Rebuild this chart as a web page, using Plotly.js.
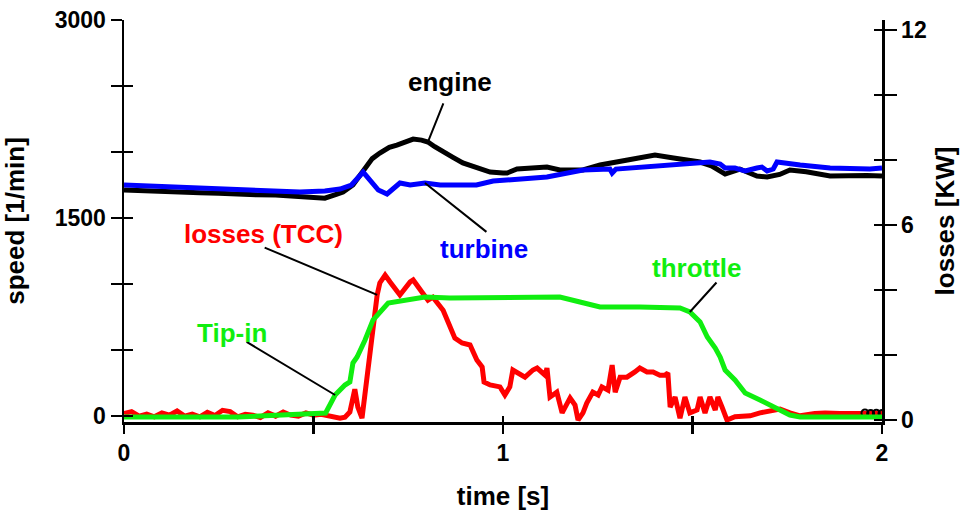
<!DOCTYPE html>
<html>
<head>
<meta charset="utf-8">
<script src="https://cdn.plot.ly/plotly-3.0.1.min.js"></script>
<style>
  html, body { margin: 0; padding: 0; background: #ffffff; }
  #chart { width: 962px; height: 517px; }
</style>
</head>
<body>
<div id="chart"></div>
<script>
// Engine speed [1/min] over time [s]
const engineTime = [0, 0.05, 0.1, 0.15, 0.2, 0.25, 0.3, 0.35, 0.4, 0.45, 0.5, 0.53, 0.56, 0.578, 0.604, 0.631, 0.655, 0.675, 0.70, 0.72, 0.745, 0.763, 0.785, 0.802, 0.82, 0.842, 0.868, 0.894, 0.93, 0.966, 1.0, 1.011, 1.037, 1.07, 1.116, 1.15, 1.18, 1.211, 1.256, 1.30, 1.335, 1.37, 1.401, 1.45, 1.52, 1.55, 1.586, 1.625, 1.65, 1.670, 1.697, 1.73, 1.757, 1.80, 1.863, 1.923, 1.96, 2.0];
const engineSpeed = [1712, 1705, 1700, 1698, 1692, 1688, 1680, 1676, 1674, 1668, 1662, 1650, 1680, 1697, 1750, 1848, 1950, 1992, 2035, 2053, 2075, 2098, 2090, 2076, 2040, 2000, 1960, 1917, 1880, 1848, 1841, 1841, 1871, 1880, 1886, 1864, 1862, 1864, 1902, 1925, 1939, 1960, 1977, 1955, 1924, 1895, 1833, 1871, 1840, 1818, 1811, 1830, 1864, 1850, 1818, 1826, 1822, 1818];

// Turbine speed [1/min]
const turbineTime = [0, 0.1, 0.2, 0.3, 0.4, 0.464, 0.53, 0.57, 0.60, 0.631, 0.671, 0.694, 0.728, 0.755, 0.794, 0.834, 0.93, 0.974, 1.116, 1.211, 1.282, 1.288, 1.298, 1.335, 1.388, 1.52, 1.546, 1.573, 1.586, 1.612, 1.639, 1.670, 1.683, 1.697, 1.713, 1.723, 1.757, 1.784, 1.863, 1.968, 2.0];
const turbineSpeed = [1750, 1740, 1730, 1718, 1708, 1697, 1705, 1720, 1750, 1848, 1712, 1682, 1765, 1750, 1765, 1750, 1750, 1780, 1811, 1864, 1871, 1841, 1871, 1879, 1886, 1917, 1924, 1909, 1879, 1879, 1856, 1879, 1886, 1856, 1871, 1924, 1917, 1902, 1879, 1871, 1879];

// Torque converter clutch losses [KW]
const lossTime = [0, 0.02, 0.04, 0.06, 0.08, 0.10, 0.12, 0.14, 0.16, 0.18, 0.20, 0.22, 0.24, 0.26, 0.28, 0.30, 0.32, 0.34, 0.36, 0.38, 0.40, 0.42, 0.44, 0.46, 0.48, 0.50, 0.52, 0.54, 0.570, 0.583, 0.596, 0.609, 0.617, 0.628, 0.636, 0.654, 0.668, 0.675, 0.689, 0.702, 0.728, 0.755, 0.763, 0.786, 0.802, 0.815, 0.834, 0.842, 0.873, 0.892, 0.913, 0.931, 0.945, 0.950, 0.966, 0.992, 1.005, 1.018, 1.026, 1.040, 1.058, 1.079, 1.090, 1.111, 1.116, 1.124, 1.142, 1.156, 1.177, 1.190, 1.198, 1.211, 1.221, 1.237, 1.251, 1.261, 1.277, 1.288, 1.296, 1.309, 1.327, 1.348, 1.361, 1.380, 1.396, 1.414, 1.427, 1.435, 1.441, 1.454, 1.467, 1.480, 1.493, 1.512, 1.520, 1.533, 1.546, 1.560, 1.567, 1.578, 1.591, 1.612, 1.652, 1.678, 1.705, 1.731, 1.757, 1.784, 1.823, 1.850, 1.889, 1.929, 1.955, 1.970, 1.985, 2.0];
const lossKW = [0.20, 0.26, 0.12, 0.18, 0.10, 0.22, 0.15, 0.28, 0.12, 0.18, 0.10, 0.24, 0.14, 0.30, 0.26, 0.10, 0.18, 0.15, 0.08, 0.22, 0.12, 0.25, 0.15, 0.12, 0.22, 0.15, 0.18, 0.14, 0.06, 0.09, 0.25, 0.95, 0.40, 0.06, 0.83, 2.68, 3.85, 4.22, 4.46, 4.25, 3.85, 4.25, 4.31, 3.94, 3.69, 3.78, 3.48, 3.38, 2.52, 2.37, 2.31, 1.85, 1.63, 1.17, 1.08, 1.02, 0.77, 1.02, 1.54, 1.45, 1.32, 1.54, 1.60, 1.38, 1.60, 0.71, 0.86, 0.22, 0.68, 0.46, 0.0, 0.22, 0.52, 0.86, 0.77, 1.02, 0.92, 1.69, 0.86, 1.32, 1.32, 1.48, 1.60, 1.48, 1.48, 1.38, 1.38, 1.45, 0.40, 0.71, 0.06, 0.71, 0.22, 0.31, 0.71, 0.22, 0.71, 0.31, 0.71, 0.40, 0.0, 0.10, 0.13, 0.22, 0.28, 0.34, 0.22, 0.13, 0.20, 0.22, 0.20, 0.20, 0.22, 0.20, 0.21, 0.20];

// Throttle pedal position [%]
const throttleTime = [0, 0.3, 0.532, 0.544, 0.557, 0.583, 0.596, 0.604, 0.615, 0.636, 0.657, 0.697, 0.755, 0.794, 0.860, 0.992, 1.150, 1.203, 1.256, 1.361, 1.467, 1.493, 1.520, 1.539, 1.560, 1.573, 1.586, 1.612, 1.639, 1.678, 1.718, 1.757, 1.784, 2.0];
const throttlePct = [0.75, 0.75, 1.75, 4.25, 6.25, 8.75, 9.5, 14.25, 15.75, 20, 25, 29.25, 30, 30.75, 30.5, 30.5, 30.75, 29.5, 28.25, 28.25, 28, 27, 24.5, 20.75, 18, 15.75, 12.5, 10, 6.75, 5, 3, 1.25, 0.75, 0.75];

// Axis ticks
const timeTicks = [0, 0.5, 1, 1.5, 2];
const timeTickText = ['0', '', '1', '', '2'];
const speedTicks = [0, 500, 1000, 1500, 2000, 2500, 3000];
const speedTickText = ['0', '', '', '1500', '', '', '3000'];
const lossTicks = [0, 2, 4, 6, 8, 10, 12];
const lossTickText = ['0', '', '', '6', '', '', '12'];

const FONT = 'Liberation Sans, Arial, Helvetica, sans-serif';
const GREEN = '#10ee10';
const speedRange = [-45, 3000];
const lossRange = [-0.06, 12.31];

const lastN = 4;
const traces = [
  { x: throttleTime, y: throttlePct, yaxis: 'y5', mode: 'lines', name: 'throttle',
    line: { color: GREEN, width: 5 } },
  { x: lossTime, y: lossKW, yaxis: 'y2', mode: 'lines', name: 'losses (TCC)',
    line: { color: '#ff0000', width: 5 } },
  { x: lossTime.slice(-lastN), y: lossKW.slice(-lastN), yaxis: 'y2', mode: 'markers', name: 'end',
    marker: { symbol: 'circle-open', color: '#000000', size: 7, line: { width: 2 } } },
  { x: engineTime, y: engineSpeed, yaxis: 'y', mode: 'lines', name: 'engine',
    line: { color: '#000000', width: 5 } },
  { x: turbineTime, y: turbineSpeed, yaxis: 'y', mode: 'lines', name: 'turbine',
    line: { color: '#0000ff', width: 5 } },
  // empty traces so the inner tick axes get drawn
  { x: [], y: [], xaxis: 'x2', yaxis: 'y', mode: 'lines', hoverinfo: 'skip' },
  { x: [], y: [], xaxis: 'x', yaxis: 'y3', mode: 'lines', hoverinfo: 'skip' },
  { x: [], y: [], xaxis: 'x', yaxis: 'y4', mode: 'lines', hoverinfo: 'skip' }
];

const tickFont = { family: FONT, size: 23, color: '#000000', weight: 'bold' };
const titleFont = { family: FONT, size: 26, color: '#000000', weight: 'bold' };
const labelFont = (c) => ({ family: FONT, size: 26, color: c, weight: 'bold' });

const baseAxis = {
  showgrid: false, zeroline: false, showline: true, linecolor: '#000000', linewidth: 2.5,
  tickcolor: '#000000', tickwidth: 2.5, tickmode: 'array', fixedrange: true
};

// Leader line from a curve sample to its label
function leader(xs, ys, i, yref, ax, ay) {
  return { x: xs[i], y: ys[i], xref: 'x', yref: yref, text: '', showarrow: true,
           arrowhead: 0, arrowwidth: 2, arrowcolor: '#000000', ax: ax, ay: ay, standoff: 0 };
}
function label(text, x, y, color) {
  return { x: x, y: y, xref: 'x', yref: 'y', text: text, showarrow: false,
           font: labelFont(color), xanchor: 'center', yanchor: 'middle' };
}

const layout = {
  width: 962, height: 517,
  margin: { l: 124, r: 80, t: 20, b: 95 },
  paper_bgcolor: '#ffffff', plot_bgcolor: '#ffffff',
  showlegend: false,
  xaxis: Object.assign({}, baseAxis, {
    range: [0, 2], tickvals: timeTicks, ticktext: timeTickText,
    ticks: 'outside', ticklen: 9, tickfont: tickFont,
    title: { text: 'time [s]', font: titleFont, standoff: 22 }
  }),
  xaxis2: Object.assign({}, baseAxis, {
    overlaying: 'x', anchor: 'y', range: [0, 2], tickvals: timeTicks,
    ticks: 'inside', ticklen: 6, showticklabels: false
  }),
  yaxis: Object.assign({}, baseAxis, {
    range: speedRange, tickvals: speedTicks, ticktext: speedTickText,
    ticks: 'outside', ticklen: 11, tickfont: tickFont,
    title: { text: 'speed [1/min]', font: titleFont, standoff: 24 }
  }),
  yaxis3: Object.assign({}, baseAxis, {
    overlaying: 'y', side: 'left', anchor: 'x', range: speedRange, tickvals: speedTicks,
    ticks: 'inside', ticklen: 9, showticklabels: false
  }),
  yaxis2: Object.assign({}, baseAxis, {
    overlaying: 'y', side: 'right', anchor: 'x', range: lossRange,
    tickvals: lossTicks, ticktext: lossTickText,
    ticks: 'outside', ticklen: 12, tickfont: tickFont,
    title: { text: 'losses [KW]', font: titleFont, standoff: 10 }
  }),
  yaxis4: Object.assign({}, baseAxis, {
    overlaying: 'y', side: 'right', anchor: 'x', range: lossRange, tickvals: lossTicks,
    ticks: 'inside', ticklen: 8, showticklabels: false
  }),
  yaxis5: { overlaying: 'y', range: [-0.5, 100], visible: false, fixedrange: true },
  annotations: [
    leader(engineTime, engineSpeed, engineTime.indexOf(0.802), 'y', 16, -40),
    leader(turbineTime, turbineSpeed, turbineTime.indexOf(0.794), 'y', 63, 50),
    leader(lossTime, lossKW, lossTime.indexOf(0.668), 'y2', -114, -48),
    leader(throttleTime, throttlePct, throttleTime.indexOf(0.557), 'y5', -90, -54),
    leader(throttleTime, throttlePct, throttleTime.indexOf(1.493), 'y5', 28, -31),
    label('engine', 0.860, 2530, '#000000'),
    label('turbine', 0.950, 1265, '#0000ff'),
    label('losses (TCC)', 0.369, 1379, '#ff0000'),
    label('Tip-in', 0.285, 629, GREEN),
    label('throttle', 1.512, 1121, GREEN)
  ]
};

Plotly.newPlot('chart', traces, layout, { staticPlot: true, displayModeBar: false });
</script>
</body>
</html>
